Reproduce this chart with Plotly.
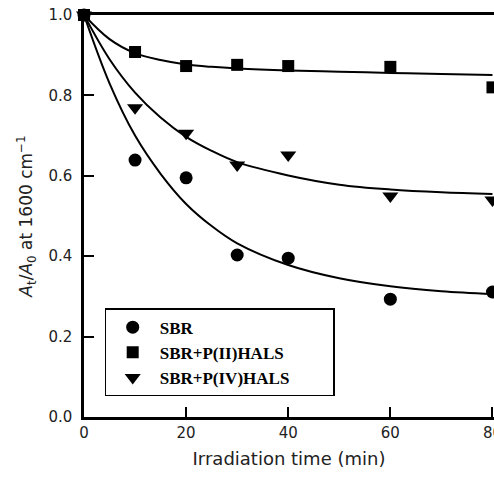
import plotly.graph_objects as go

# Measured data points
time = [0, 10, 20, 30, 40, 60, 80]
sbr = [1.0, 0.639, 0.595, 0.403, 0.395, 0.293, 0.311]
sbr_p2 = [1.0, 0.908, 0.873, 0.876, 0.873, 0.871, 0.82]
sbr_p4 = [1.0, 0.769, 0.706, 0.627, 0.652, 0.55, 0.54]

# Fitted curves
curve_t = [0, 5, 10, 15, 20, 25, 30, 40, 50, 60, 70, 80]
curve_sbr = [1.0, 0.83, 0.70, 0.605, 0.53, 0.475, 0.432, 0.378, 0.345, 0.325, 0.313, 0.306]
curve_p2 = [1.0, 0.94, 0.905, 0.888, 0.877, 0.871, 0.867, 0.862, 0.859, 0.856, 0.853, 0.851]
curve_p4 = [1.0, 0.89, 0.807, 0.745, 0.697, 0.662, 0.634, 0.601, 0.578, 0.566, 0.559, 0.555]

x_ticks = [0, 20, 40, 60, 80]
y_ticks = [0.0, 0.2, 0.4, 0.6, 0.8, 1.0]
names = ["SBR", "SBR+P(II)HALS", "SBR+P(IV)HALS"]

fig = go.Figure()
for cy in [curve_sbr, curve_p2, curve_p4]:
    fig.add_trace(go.Scatter(x=curve_t, y=cy, mode="lines", line=dict(color="black", width=2, shape="spline"),
                             showlegend=False, hoverinfo="skip", cliponaxis=False))

pad = "\u00a0" * 9
fig.add_trace(go.Scatter(x=time, y=sbr, mode="markers", name=names[0],
                         marker=dict(symbol="circle", size=13, color="black"), cliponaxis=False))
fig.add_trace(go.Scatter(x=time, y=sbr_p2, mode="markers", name=names[1],
                         marker=dict(symbol="square", size=12, color="black"), cliponaxis=False))
fig.add_trace(go.Scatter(x=time, y=sbr_p4, mode="markers", name=names[2] + pad,
                         marker=dict(symbol="triangle-down", size=14, color="black"), cliponaxis=False))

tick_font = dict(family="DejaVu Sans, sans-serif", size=15, color="#222")
fig.update_layout(
    width=494, height=479,
    margin=dict(l=84, r=0, t=15, b=62),
    plot_bgcolor="white", paper_bgcolor="white",
    font=dict(family="DejaVu Sans, sans-serif", color="#222"),
    legend=dict(x=0.05, y=0.27, xanchor="left", yanchor="top",
                bordercolor="black", borderwidth=1.2, bgcolor="white",
                font=dict(family="Liberation Serif, Times New Roman, serif", size=17, color="black", weight="bold"),
                tracegroupgap=0, itemwidth=44),
)
fig.update_xaxes(range=[0, 80.3], tickvals=x_ticks, ticks="inside", ticklen=10, tickwidth=2,
                 tickcolor="black", showline=True, linewidth=2.5, linecolor="black", mirror=True,
                 showgrid=False, zeroline=False, tickfont=tick_font, ticklabeloverflow="allow",
                 title=dict(text="Irradiation time (min)", font=dict(size=18, color="#222"), standoff=12),
                 automargin=False)
fig.update_yaxes(range=[0, 1.0], tickvals=y_ticks, tickformat=".1f", ticks="inside", ticklen=10, tickwidth=2,
                 tickcolor="black", showline=True, linewidth=2.5, linecolor="black",
                 showgrid=False, zeroline=False, tickfont=tick_font, ticklabelstandoff=6,
                 title=dict(text="<i>A</i><sub>t</sub>/<i>A</i><sub>0</sub> at 1600 cm<sup>\u22121</sup>",
                            font=dict(size=17, color="#222"), standoff=12),
                 automargin=False)

fig.write_html("out.html", config={"displayModeBar": False},
               post_script="document.body.style.margin='0';document.body.style.overflow='hidden';")
